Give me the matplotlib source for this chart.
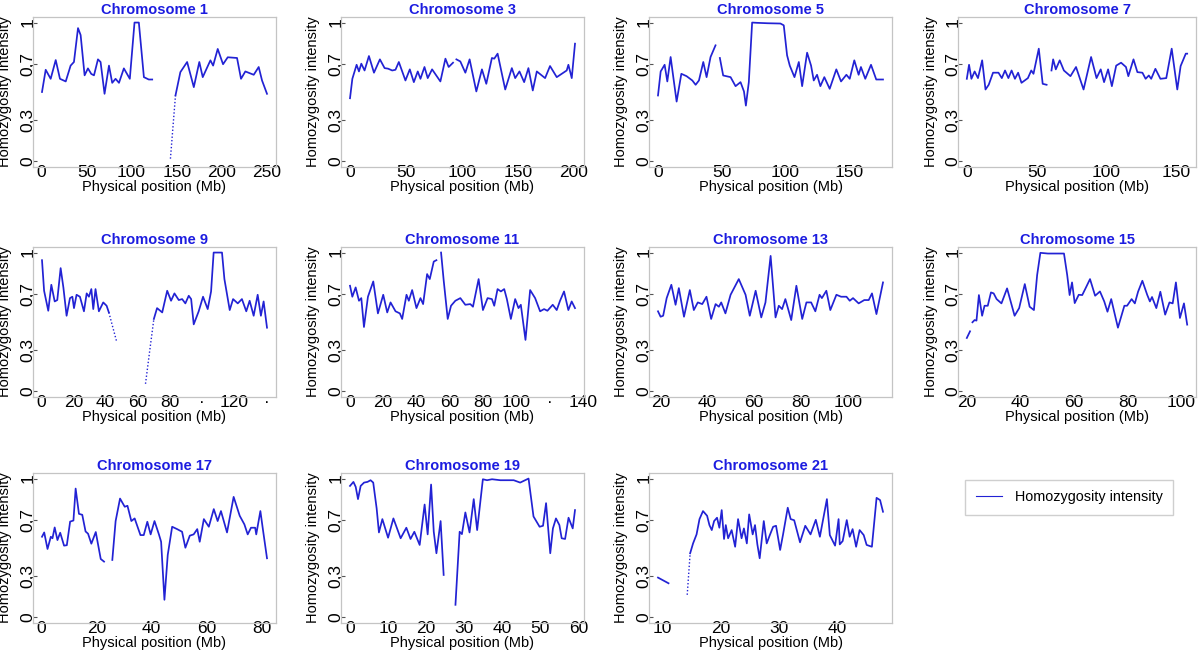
import numpy as np
import matplotlib
matplotlib.use('Agg')
import matplotlib.pyplot as plt
from matplotlib.lines import Line2D

plt.rcParams['font.family'] = ['Liberation Sans', 'DejaVu Sans']

line_col = '#2222d4'
title_col = '#1c1ce0'
frame_col = '#c4c4c4'

# ---- data (None = gap in the curve) ----
chr1_pos = [0.7, 4.8, 10.3, 15.9, 20.6, 27.0, 32.4, 36.1, 40.6, 43.5, 47.9, 51.6, 55.3, 58.3, 62.7,
            65.6, 70.0, 74.9, 78.5, 82.2, 86.0, 91.4, 98.0, 103.2, 108.0, 113.6, 119.0, 122.8, None,
            148.6, 154.0, 161.5, 168.9, 175.0, 178.8, 187.3, 190.3, 195.4, 201.3, 206.5, 216.8, 221.2,
            226.0, 235.3, 240.8, 244.5, 250.0]
chr1_hi = [0.50, 0.66, 0.595, 0.73, 0.595, 0.576, 0.69, 0.716, 0.96, 0.91, 0.62, 0.67, 0.63, 0.62, 0.735,
           0.716, 0.487, 0.69, 0.566, 0.595, 0.566, 0.67, 0.595, 1.0, 1.0, 0.607, 0.59, 0.59, None,
           0.475, 0.643, 0.716, 0.535, 0.716, 0.607, 0.728, 0.69, 0.81, 0.70, 0.75, 0.745, 0.595,
           0.648, 0.624, 0.68, 0.583, 0.487]
chr1_dot_pos = [143.0, 148.6]
chr1_dot_hi = [0.02, 0.475]

chr3_pos = [0.0, 2.1, 5.9, 8.0, 10.1, 13.0, 16.9, 21.4, 26.7, 30.9, 34.0, 37.7, 40.6, 43.6, 49.5,
            53.4, 57.0, 60.5, 62.9, 66.5, 69.4, 73.3, 80.7, 85.2, 88.1, 92.0, None,
            95.0, 98.5, 103.0, 106.8, 112.8, 117.8, 121.7, 126.7, 128.8, 131.8, 138.6, 144.5, 147.5,
            151.3, 155.5, 159.3, 163.2, 166.8, 174.2, 178.6, 184.6, 193.5, 195.0, 198.0, 200.9]
chr3_hi = [0.455, 0.595, 0.696, 0.648, 0.704, 0.655, 0.759, 0.639, 0.735, 0.672, 0.668, 0.655, 0.66, 0.716, 0.583,
           0.663, 0.571, 0.648, 0.595, 0.68, 0.60, 0.663, 0.576, 0.74, 0.68, 0.711, None,
           0.735, 0.72, 0.639, 0.735, 0.504, 0.663, 0.559, 0.745, 0.74, 0.776, 0.518, 0.672, 0.60,
           0.648, 0.571, 0.672, 0.511, 0.648, 0.60, 0.687, 0.607, 0.655, 0.696, 0.60, 0.848]

chr5_pos = [0.0, 2.1, 5.2, 7.3, 9.9, 12.0, 14.6, 18.3, 22.4, 26.9, 29.5, 32.1, 35.5, 38.1, 41.2, 45.1, None,
            48.5, 51.1, 56.9, 60.8, 64.7, 67.4, 68.9, 71.2, 73.8, 77.7, 86.0, 96.0, 98.6, 101.2, 103.3,
            107.0, 110.4, 113.0, 116.9, 120.0, 122.1, 124.7, 127.3, 130.4, 134.6, 139.8, 143.5, 147.7,
            150.3, 153.9, 157.3, 159.1, 162.5, 167.0, 171.1, 176.4]
chr5_hi = [0.475, 0.648, 0.696, 0.576, 0.752, 0.607, 0.431, 0.631, 0.614, 0.583, 0.552, 0.583, 0.716, 0.607, 0.752, 0.836, None,
           0.745, 0.619, 0.607, 0.542, 0.571, 0.504, 0.402, 0.571, 1.0, 0.998, 0.995, 0.993, 0.98, 0.764, 0.69,
           0.607, 0.716, 0.542, 0.783, 0.69, 0.583, 0.624, 0.542, 0.607, 0.523, 0.663, 0.576, 0.624,
           0.595, 0.728, 0.624, 0.68, 0.595, 0.696, 0.59, 0.59]

chr7_pos = [0.0, 1.6, 3.3, 5.6, 8.0, 11.0, 13.4, 15.7, 18.8, 22.7, 25.1, 27.4, 29.8, 32.1, 34.5,
            36.8, 39.2, 43.8, 46.2, 47.8, 51.6, 54.4, 57.2, None,
            60.7, 61.9, 63.8, 66.6, 69.6, 74.3, 78.3, 83.7, 89.1, 93.0, 96.0, 98.4, 101.3, 104.0, 107.1,
            110.6, 114.1, 115.8, 119.5, 122.3, 125.9, 128.2, 130.5, 132.2, 135.2, 138.8, 143.0, 146.9,
            150.9, 153.3, 157.0, 158.0]
chr7_hi = [0.595, 0.696, 0.595, 0.648, 0.60, 0.728, 0.518, 0.552, 0.639, 0.639, 0.60, 0.655, 0.60, 0.655, 0.595,
           0.639, 0.566, 0.60, 0.655, 0.631, 0.812, 0.559, 0.552, None,
           0.655, 0.735, 0.663, 0.728, 0.655, 0.614, 0.68, 0.518, 0.752, 0.60, 0.663, 0.571, 0.663, 0.542, 0.69,
           0.711, 0.68, 0.614, 0.735, 0.643, 0.639, 0.595, 0.619, 0.595, 0.667, 0.595, 0.60, 0.812,
           0.518, 0.687, 0.776, 0.776]

chr9_pos = [0.4, 1.7, 4.3, 6.2, 8.3, 9.9, 12.0, 13.7, 15.7, 17.8, 19.3, 20.3, 21.9, 24.0, 26.5,
            28.2, 29.6, 31.1, 32.3, 33.7, 35.8, 38.5, 40.6, 42.0, None,
            70.0, 72.0, 75.2, 78.3, 80.7, 82.8, 85.5, 87.6, 89.6, 91.7, 93.2, 94.8, 97.9, 100.6, 103.5,
            105.6, 107.2, 112.4, 113.9, 117.2, 119.3, 122.2, 124.8, 127.5, 129.6, 132.1, 134.6, 136.6,
            138.3, 140.4]
chr9_hi = [0.945, 0.725, 0.581, 0.768, 0.648, 0.658, 0.888, 0.749, 0.545, 0.672, 0.682, 0.60, 0.696, 0.682, 0.577,
           0.706, 0.682, 0.737, 0.593, 0.737, 0.577, 0.641, 0.617, 0.569, None,
           0.522, 0.60, 0.569, 0.725, 0.653, 0.706, 0.658, 0.665, 0.634, 0.689, 0.665, 0.483, 0.577, 0.682, 0.593,
           0.72, 1.0, 1.0, 0.809, 0.586, 0.665, 0.634, 0.665, 0.577, 0.653, 0.545, 0.696, 0.545,
           0.648, 0.459]
chr9_dot_pos = [42.0, 44.5, 46.8, None, 64.8, 67.5, 70.0]
chr9_dot_hi = [0.569, 0.46, 0.361, None, 0.055, 0.30, 0.522]

chr11_pos = [0.0, 1.4, 3.4, 5.4, 6.8, 8.4, 10.8, 14.0, 16.8, 20.0, 22.4, 24.4, 27.4, 30.0, 31.4,
             34.0, 35.4, 37.4, 40.0, 42.4, 44.0, 46.4, 48.0, 50.4, 52.0, None,
             54.8, 56.4, 58.8, 60.8, 63.4, 66.4, 69.4, 72.4, 74.0, 77.4, 80.0, 82.8, 85.4, 86.8, 88.8,
             90.8, 92.8, 94.4, 96.8, 99.4, 101.4, 102.8, 105.6, 108.4, 111.4, 114.4, 116.8, 118.8, 122.0,
             124.4, 126.4, 128.8, 131.4, 133.4, 135.4]
chr11_hi = [0.761, 0.682, 0.749, 0.653, 0.672, 0.464, 0.682, 0.792, 0.562, 0.696, 0.569, 0.641, 0.577, 0.562, 0.522,
            0.696, 0.653, 0.73, 0.60, 0.672, 0.629, 0.845, 0.809, 0.935, 0.945, None,
            1.0, 0.797, 0.522, 0.617, 0.653, 0.672, 0.624, 0.629, 0.61, 0.809, 0.586, 0.672, 0.665, 0.617, 0.737,
            0.72, 0.737, 0.665, 0.522, 0.665, 0.60, 0.624, 0.371, 0.73, 0.672, 0.577, 0.593, 0.581, 0.624,
            0.586, 0.653, 0.72, 0.586, 0.648, 0.60]

chr13_pos = [18.9, 20.0, 21.1, 22.6, 24.6, 26.4, 27.8, 30.0, 32.5, 34.2, 35.9, 37.8, 39.6, 41.6, 43.5,
             44.9, 45.9, 47.7, 49.9, 53.4, 56.3, 58.1, 60.6, 63.0, 64.8, 67.0, 69.1, 70.5, 71.9, 73.3,
             75.8, 78.0, 80.5, 82.3, 84.3, 86.1, 87.9, 88.9, 90.8, 92.5, 95.1, 97.1, 99.4, 100.8, 102.2,
             104.6, 107.0, 108.9, 110.3, 112.2, 115.0]
chr13_hi = [0.577, 0.538, 0.545, 0.672, 0.768, 0.624, 0.744, 0.538, 0.73, 0.586, 0.641, 0.629, 0.682, 0.522, 0.629,
            0.61, 0.641, 0.562, 0.696, 0.809, 0.696, 0.545, 0.725, 0.533, 0.641, 0.976, 0.533, 0.617, 0.593, 0.665,
            0.514, 0.761, 0.522, 0.641, 0.641, 0.577, 0.696, 0.672, 0.725, 0.586, 0.696, 0.682, 0.682, 0.653, 0.672,
            0.634, 0.658, 0.658, 0.706, 0.557, 0.785]

chr15_pos = [20.0, 21.2, None,
             22.1, 22.9, 23.6, 24.5, 25.7, 26.6, 27.8, 29.0, 30.0, 31.1, 32.9, 35.0, 37.8, 39.5, 41.6,
             43.4, 45.0, 46.2, 47.4, 50.2, 54.4, 56.2, 57.4, 58.3, 59.2, 60.2, 61.7, 63.0, 64.3, 65.9,
             67.8, 69.6, 71.2, 72.4, 73.8, 76.3, 78.7, 79.7, 81.4, 82.6, 83.8, 85.4, 87.2, 88.2, 89.0,
             90.6, 92.1, 93.9, 95.5, 96.7, 97.9, 99.4, 100.9, 102.1]
chr15_hi = [0.385, 0.433, None,
            0.498, 0.514, 0.51, 0.694, 0.545, 0.617, 0.617, 0.713, 0.706, 0.665, 0.634, 0.742, 0.545, 0.60, 0.773,
            0.61, 0.586, 0.838, 0.998, 0.993, 0.993, 0.993, 0.838, 0.694, 0.785, 0.636, 0.696, 0.694, 0.745, 0.809,
            0.689, 0.72, 0.648, 0.574, 0.665, 0.459, 0.617, 0.617, 0.665, 0.634, 0.718, 0.797, 0.696, 0.648, 0.68,
            0.60, 0.718, 0.553, 0.641, 0.634, 0.785, 0.529, 0.634, 0.481]

chr17_pos = [0.2, 1.0, 2.2, 3.4, 4.0, 4.8, 5.8, 6.8, 8.2, 9.2, 10.4, 11.6, 12.4, 13.6, 14.8,
             16.0, 16.9, 18.1, 19.7, 21.5, 22.7, None,
             25.7, 26.9, 28.5, 30.2, 31.2, 32.6, 33.8, 35.9, 37.1, 38.4, 39.6, 41.0, 42.6, 43.4, 44.6,
             45.8, 47.4, 49.2, 51.0, 52.2, 53.8, 55.2, 56.5, 57.4, 58.9, 60.7, 62.5, 63.9, 65.1, 67.3,
             69.7, 71.9, 73.6, 74.8, 76.0, 77.5, 77.9, 79.4, 80.3, 81.8]
chr17_hi = [0.581, 0.612, 0.493, 0.581, 0.57, 0.648, 0.557, 0.61, 0.517, 0.52, 0.69, 0.698, 0.928, 0.746, 0.739,
            0.619, 0.603, 0.531, 0.615, 0.421, 0.402, None,
            0.414, 0.694, 0.856, 0.797, 0.804, 0.694, 0.713, 0.593, 0.593, 0.689, 0.598, 0.694, 0.598, 0.545, 0.127,
            0.45, 0.653, 0.636, 0.617, 0.502, 0.589, 0.598, 0.636, 0.545, 0.708, 0.653, 0.78, 0.694, 0.766, 0.612,
            0.868, 0.732, 0.67, 0.598, 0.646, 0.646, 0.598, 0.766, 0.636, 0.426]

chr19_pos = [0.0, 0.9, 1.5, 2.1, 2.8, 3.7, 4.6, 5.4, 6.1, 7.0, 7.6, 8.5, 10.0, 11.4, 13.3,
             14.8, 15.9, 16.9, 18.3, 19.6, 20.4, 21.3, 22.0, 22.7, 23.8, 24.6, None,
             27.7, 28.8, 29.4, 30.3, 31.4, 32.5, 33.4, 34.9, 36.0, 37.3, 39.5, 43.0, 44.7, 46.9, 48.2,
             49.8, 50.7, 51.5, 52.6, 53.3, 54.1, 55.0, 55.6, 56.5, 57.4, 58.5, 59.1]
chr19_hi = [0.947, 0.976, 0.94, 0.852, 0.947, 0.971, 0.976, 0.988, 0.971, 0.785, 0.612, 0.708, 0.574, 0.713, 0.57,
            0.646, 0.565, 0.617, 0.522, 0.813, 0.598, 0.957, 0.617, 0.462, 0.694, 0.306, None,
            0.091, 0.617, 0.60, 0.756, 0.612, 0.852, 0.629, 0.995, 0.988, 0.995, 0.988, 0.988, 0.971, 1.0, 0.727,
            0.653, 0.66, 0.823, 0.462, 0.641, 0.713, 0.665, 0.57, 0.565, 0.718, 0.641, 0.773]

chr21_pos = [9.3, 11.1, None,
             14.8, 15.3, 15.9, 16.4, 17.0, 17.7, 18.1, 18.5, 18.9, 19.4, 19.8, 20.2, 20.6, 20.9, 21.3,
             21.9, 22.5, 23.0, 23.6, 24.0, 24.5, 24.9, 25.5, 25.9, 26.3, 26.7, 27.4, 27.9, 28.4, 29.0,
             29.5, 30.2, 30.7, 31.5, 32.0, 32.6, 33.6, 34.5, 35.4, 36.3, 37.0, 38.2, 38.7, 39.6, 40.2,
             40.4, 40.9, 41.6, 42.1, 42.6, 43.2, 43.8, 44.5, 45.0, 45.9, 46.7, 47.3, 47.8]
chr21_hi = [0.287, 0.246, None,
            0.462, 0.533, 0.598, 0.708, 0.766, 0.732, 0.665, 0.629, 0.694, 0.718, 0.646, 0.773, 0.565, 0.665, 0.57,
            0.629, 0.509, 0.708, 0.57, 0.641, 0.533, 0.742, 0.598, 0.665, 0.526, 0.426, 0.694, 0.533, 0.589, 0.653,
            0.66, 0.486, 0.598, 0.79, 0.708, 0.70, 0.541, 0.66, 0.598, 0.703, 0.581, 0.852, 0.593, 0.517, 0.708,
            0.526, 0.55, 0.701, 0.581, 0.636, 0.509, 0.629, 0.593, 0.522, 0.509, 0.861, 0.845, 0.761]
chr21_dot_pos = [14.3, 14.8]
chr21_dot_hi = [0.163, 0.462]

y_ticks = [0, 0.3, 0.7, 1]
y_ticklabels = ['0', '0,3', '0,7', '1']

panels = [
    (1, chr1_pos, chr1_hi, chr1_dot_pos, chr1_dot_hi, [0, 50, 100, 150, 200, 250], None),
    (3, chr3_pos, chr3_hi, None, None, [0, 50, 100, 150, 200], None),
    (5, chr5_pos, chr5_hi, None, None, [0, 50, 100, 150], None),
    (7, chr7_pos, chr7_hi, None, None, [0, 50, 100, 150], None),
    (9, chr9_pos, chr9_hi, chr9_dot_pos, chr9_dot_hi, [0, 20, 40, 60, 80, 100, 120, 140],
     ['0', '20', '40', '60', '80', '·', '120', '·']),
    (11, chr11_pos, chr11_hi, None, None, [0, 20, 40, 60, 80, 100, 120, 140],
     ['0', '20', '40', '60', '80', '100', '·', '140']),
    (13, chr13_pos, chr13_hi, None, None, [20, 40, 60, 80, 100], None),
    (15, chr15_pos, chr15_hi, None, None, [20, 40, 60, 80, 100], None),
    (17, chr17_pos, chr17_hi, None, None, [0, 20, 40, 60, 80], None),
    (19, chr19_pos, chr19_hi, None, None, [0, 10, 20, 30, 40, 50, 60], None),
    (21, chr21_pos, chr21_hi, chr21_dot_pos, chr21_dot_hi, [10, 20, 30, 40], None),
]

# layout in pixels of the 1200x651 canvas
W, H = 1200, 651
col_left = [33, 341, 649, 958]
col_w = [243, 243, 243, 238]
row_bottom = [167, 397, 623]
ax_h = 150

fig = plt.figure(figsize=(12, 6.51), dpi=100)

for i, (num, pos, hi, dpos, dhi, xt, xtl) in enumerate(panels):
    r, c = divmod(i, 4)
    ax = fig.add_axes([col_left[c] / W, 1 - row_bottom[r] / H, col_w[c] / W, ax_h / H])
    ax.plot(np.array(pos, dtype=float), np.array(hi, dtype=float), color=line_col, lw=1.25,
            solid_joinstyle='round')
    if dpos is not None:
        ax.plot(np.array(dpos, dtype=float), np.array(dhi, dtype=float), color=line_col,
                lw=1.0, ls=(0, (1, 1.5)))
    ax.margins(x=0.04)
    ax.set_ylim(-0.04, 1.04)
    ax.set_xticks(xt)
    ax.set_xticklabels(xtl if xtl is not None else [str(t) for t in xt])
    ax.set_yticks(y_ticks)
    ax.set_yticklabels(y_ticklabels, rotation=90, va='center')
    ax.tick_params(axis='x', length=0, pad=-1.5, labelsize=12.5)
    ax.tick_params(axis='y', direction='in', length=3, width=0.8, color='#555555',
                   pad=-2, labelsize=12.5)
    for s in ax.spines.values():
        s.set_color(frame_col)
        s.set_linewidth(0.9)
    ax.set_title('Chromosome %d' % num, color=title_col, fontweight='bold', fontsize=10.5, pad=2.5)
    ax.set_xlabel('Physical position (Mb)', fontsize=10.5, labelpad=0)
    ax.set_ylabel('Homozygosity intensity', fontsize=10.5)
    ax.yaxis.set_label_coords(-0.085, 0.5)

handle = Line2D([], [], color=line_col, lw=0.8)
fig.legend(handles=[handle], labels=['Homozygosity intensity'], loc='center',
           bbox_to_anchor=(1069 / W, 1 - 497.5 / H), fontsize=10.4, frameon=True,
           fancybox=False, edgecolor=frame_col, handlelength=1.8, handletextpad=0.9,
           borderpad=0.75)

fig.savefig('out.png', dpi=100)
